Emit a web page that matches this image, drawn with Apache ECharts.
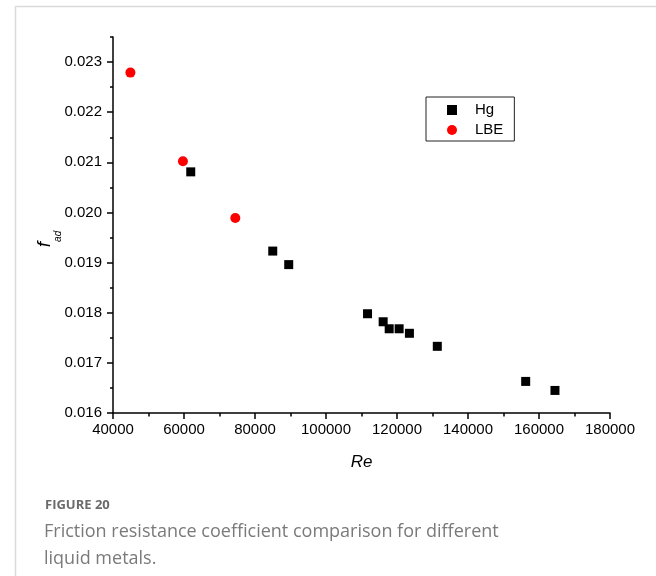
<!DOCTYPE html>
<html>
<head>
<meta charset="utf-8">
<script src="https://cdn.jsdelivr.net/npm/echarts@6/dist/echarts.min.js"></script>
<style>
html,body{margin:0;padding:0;background:#fff;}
#chart{width:656px;height:576px;}
</style>
</head>
<body>
<div id="chart"></div>
<script>
// ---- data ----
const reHg  = [61900, 85000, 89500, 111700, 116100, 117800, 120600, 123500, 131350, 156250, 164500];
const fHg   = [0.02081, 0.01923, 0.01896, 0.01798, 0.01782, 0.01768, 0.01768, 0.01759, 0.01733, 0.01663, 0.01645];
const reLBE = [44900, 59700, 74450];
const fLBE  = [0.02279, 0.02102, 0.01989];
const yTickLabels = [0.016, 0.017, 0.018, 0.019, 0.020, 0.021, 0.022, 0.023];
const xTickLabels = [40000, 60000, 80000, 100000, 120000, 140000, 160000, 180000];
const seriesNames = ['Hg', 'LBE'];
const captionLabel = 'FIGURE 20';
const captionLines = ['Friction resistance coefficient comparison for different', 'liquid metals.'];

const chart = echarts.init(document.getElementById('chart'), null, {renderer: 'canvas'});
const axisFont = "'Liberation Sans', Arial, sans-serif";
const lineStyle = {color: '#000', width: 1.5};

const option = {
  animation: false,
  backgroundColor: '#fff',
  grid: {left: 113, right: 46, top: 37, bottom: 163, containLabel: false},
  legend: {
    orient: 'vertical',
    left: 426, top: 97,
    padding: [5, 11, 3, 21],
    itemGap: 4,
    itemWidth: 10, itemHeight: 10,
    borderColor: '#222', borderWidth: 1,
    textStyle: {fontFamily: axisFont, fontSize: 15, color: '#000', lineHeight: 16, padding: [0, 0, 0, 13]},
    data: [
      {name: seriesNames[0], icon: 'rect'},
      {name: seriesNames[1], icon: 'circle'}
    ]
  },
  xAxis: {
    type: 'value',
    min: xTickLabels[0], max: xTickLabels[xTickLabels.length - 1], interval: 20000,
    name: 'Re', nameLocation: 'middle', nameGap: 41, nameMoveOverlap: false,
    nameTextStyle: {fontFamily: axisFont, fontSize: 17, fontStyle: 'italic', color: '#000'},
    axisLine: {show: true, onZero: false, lineStyle: lineStyle},
    axisTick: {show: true, length: 6, lineStyle: lineStyle},
    minorTick: {show: true, splitNumber: 2, length: 3.5, lineStyle: {color: '#000', width: 1.5}},
    splitLine: {show: false},
    minorSplitLine: {show: false},
    axisLabel: {fontFamily: axisFont, fontSize: 15, color: '#000', margin: 9, hideOverlap: false,
      showMinLabel: true, showMaxLabel: true, formatter: v => String(v)}
  },
  yAxis: [
    {
      type: 'value', position: 'left',
      min: 0.016, max: 0.0235, interval: 0.0005,
      name: '{f|f}{s|ad}', nameLocation: 'middle', nameGap: 48, nameRotate: 90, nameMoveOverlap: false,
      nameTextStyle: {
        color: '#000',
        padding: [0, 28, 0, 0],
        rich: {
          f: {fontFamily: axisFont, fontSize: 19, fontStyle: 'italic', color: '#000', lineHeight: 40, verticalAlign: 'middle'},
          s: {fontFamily: axisFont, fontSize: 10, fontStyle: 'italic', color: '#000', lineHeight: 40, verticalAlign: 'bottom', padding: [0, 0, 2, 0]}
        }
      },
      axisLine: {show: true, onZero: false, lineStyle: lineStyle},
      axisTick: {show: true, length: 3, lineStyle: lineStyle},
      splitLine: {show: false},
      axisLabel: {
        fontFamily: axisFont, fontSize: 15, color: '#000', margin: 11,
        customValues: yTickLabels,
        formatter: v => v.toFixed(3)
      }
    },
    {
      type: 'value', position: 'left', offset: 0,
      min: 0.016, max: 0.0235, interval: 0.0005,
      axisLine: {show: false},
      axisTick: {show: true, length: 6, lineStyle: lineStyle, customValues: yTickLabels},
      axisLabel: {show: false},
      splitLine: {show: false}
    }
  ],
  series: [
    {
      name: seriesNames[0], type: 'scatter', symbol: 'rect', symbolSize: 9,
      itemStyle: {color: '#000', opacity: 1},
      data: reHg.map((x, i) => [x, fHg[i]])
    },
    {
      name: seriesNames[1], type: 'scatter', symbol: 'circle', symbolSize: 10,
      itemStyle: {color: '#ff0000', opacity: 1},
      data: reLBE.map((x, i) => [x, fLBE[i]])
    }
  ],
  graphic: [
    {type: 'rect', left: 13, top: 4, silent: true, z: -10,
     shape: {width: 660, height: 620}, style: {fill: 'none', stroke: '#d9d9d9', lineWidth: 1.5}},
    {type: 'text', left: 45, top: 499,
     style: {text: captionLabel, font: 'bold 13px "Open Sans", "Noto Sans", sans-serif', fill: '#6b6b6b'}},
    {type: 'text', left: 44, top: 523,
     style: {text: captionLines[0], font: '18px "Open Sans", "Noto Sans", sans-serif', fill: '#7a7a7a'}},
    {type: 'text', left: 44, top: 550,
     style: {text: captionLines[1], font: '18px "Open Sans", "Noto Sans", sans-serif', fill: '#7a7a7a'}}
  ]
};
chart.setOption(option);
</script>
</body>
</html>
